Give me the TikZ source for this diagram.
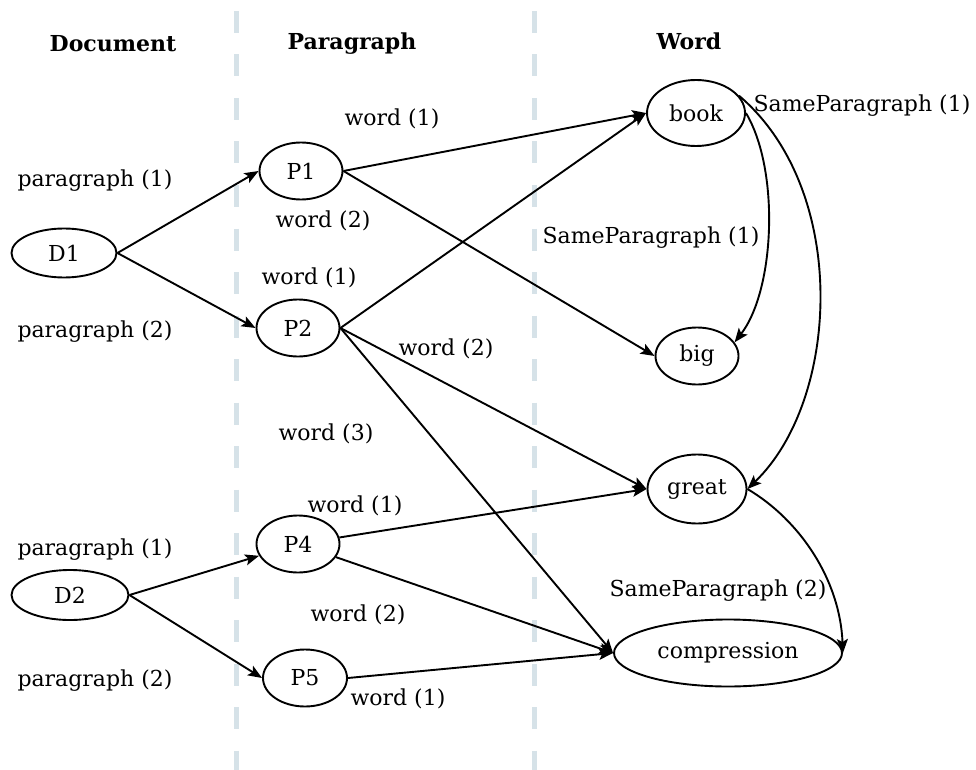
\documentclass[tikz,border=0pt]{standalone}
\usepackage{fontspec}
\setmainfont{DejaVu Serif}
\usetikzlibrary{shapes.geometric,arrows.meta}
\definecolor{lanecol}{RGB}{214,226,232}
\tikzset{
  ent/.style={ellipse, draw, line width=1.9pt, inner sep=0pt, font=\fontsize{22}{26}\selectfont},
  lbl/.style={anchor=base, inner sep=0pt, font=\fontsize{22}{26}\selectfont},
  head/.style={anchor=base, inner sep=0pt, font=\fontsize{22}{26}\selectfont\bfseries},
  rel/.style={line width=1.9pt, -{Stealth[length=14pt,width=11pt,inset=3pt]}},
  lane/.style={draw=lanecol, line width=5pt, dash pattern=on 22pt off 21.5pt}
}
\begin{document}
\begin{tikzpicture}[x=1pt,y=-1pt]
\useasboundingbox (0,0) rectangle (976,770);

% column separators
\coordinate (s1a) at (236,11);  \coordinate (s1b) at (236,770);
\coordinate (s2a) at (534,11);  \coordinate (s2b) at (534,770);
\draw[lane] (s1a) -- (s1b);
\draw[lane] (s2a) -- (s2b);

% column headings
\node[head] (hdoc) at (113,52) {Document};
\node[head] (hpar) at (352,50) {Paragraph};
\node[head] (hword) at (689,50) {Word};

% documents
\node[ent, minimum width=105pt, minimum height=49pt] (D1) at (64,253) {D1};
\node[ent, minimum width=117pt, minimum height=50pt] (D2) at (70,595) {D2};

% paragraphs
\node[ent, minimum width=83pt, minimum height=57pt] (P1) at (301,171) {P1};
\node[ent, minimum width=83pt, minimum height=57pt] (P2) at (298,328) {P2};
\node[ent, minimum width=83pt, minimum height=57pt] (P4) at (298,544) {P4};
\node[ent, minimum width=84pt, minimum height=57pt] (P5) at (305,678) {P5};

% words
\node[ent, minimum width=98pt, minimum height=66pt] (book) at (696,113) {book};
\node[ent, minimum width=83pt, minimum height=57pt] (big) at (697,356) {big};
\node[ent, minimum width=99pt, minimum height=69pt] (great) at (697,489) {great};
\node[ent, minimum width=228pt, minimum height=67pt] (compression) at (728,653) {compression};

% document -> paragraph
\draw[rel] (D1.east) -- (P1.west);
\draw[rel] (D1.east) -- (P2.west);
\draw[rel] (D2.east) -- (P4);
\draw[rel] (D2.east) -- (P5.west);

% paragraph -> word
\draw[rel] (P1.east) -- (book.west);
\draw[rel] (P1.east) -- (big.west);
\draw[rel] (P2.east) -- (book.west);
\draw[rel] (P2.east) -- (great.west);
\draw[rel] (P2.east) -- (compression.west);
\draw[rel] (P4) -- (great.west);
\draw[rel] (P4) -- (compression.west);
\draw[rel] (P5.east) -- (compression.west);

% word -> word
\draw[rel] (book.east) .. controls (780,170) and (775,290) .. (big.20);
\draw[rel] (book.22) .. controls (850,190) and (840,400) .. (great.east);
\draw[rel] (great.east) .. controls (800,520) and (840,580) .. (compression.east);

% edge labels
\node[lbl] (l1) at (95,186) {paragraph (1)};
\node[lbl] (l2) at (95,337) {paragraph (2)};
\node[lbl] (l3) at (95,555) {paragraph (1)};
\node[lbl] (l4) at (95,686) {paragraph (2)};
\node[lbl] (w1) at (392,126) {word (1)};
\node[lbl] (w2) at (323,227) {word (2)};
\node[lbl] (w3) at (309,284) {word (1)};
\node[lbl] (w4) at (446,355) {word (2)};
\node[lbl] (w5) at (326,440) {word (3)};
\node[lbl] (w6) at (355,512) {word (1)};
\node[lbl] (w7) at (358,621) {word (2)};
\node[lbl] (w8) at (398,705) {word (1)};
\node[lbl] (sp1) at (862,112) {SameParagraph (1)};
\node[lbl] (sp2) at (651,243) {SameParagraph (1)};
\node[lbl] (sp3) at (718,596) {SameParagraph (2)};
\end{tikzpicture}
\end{document}
